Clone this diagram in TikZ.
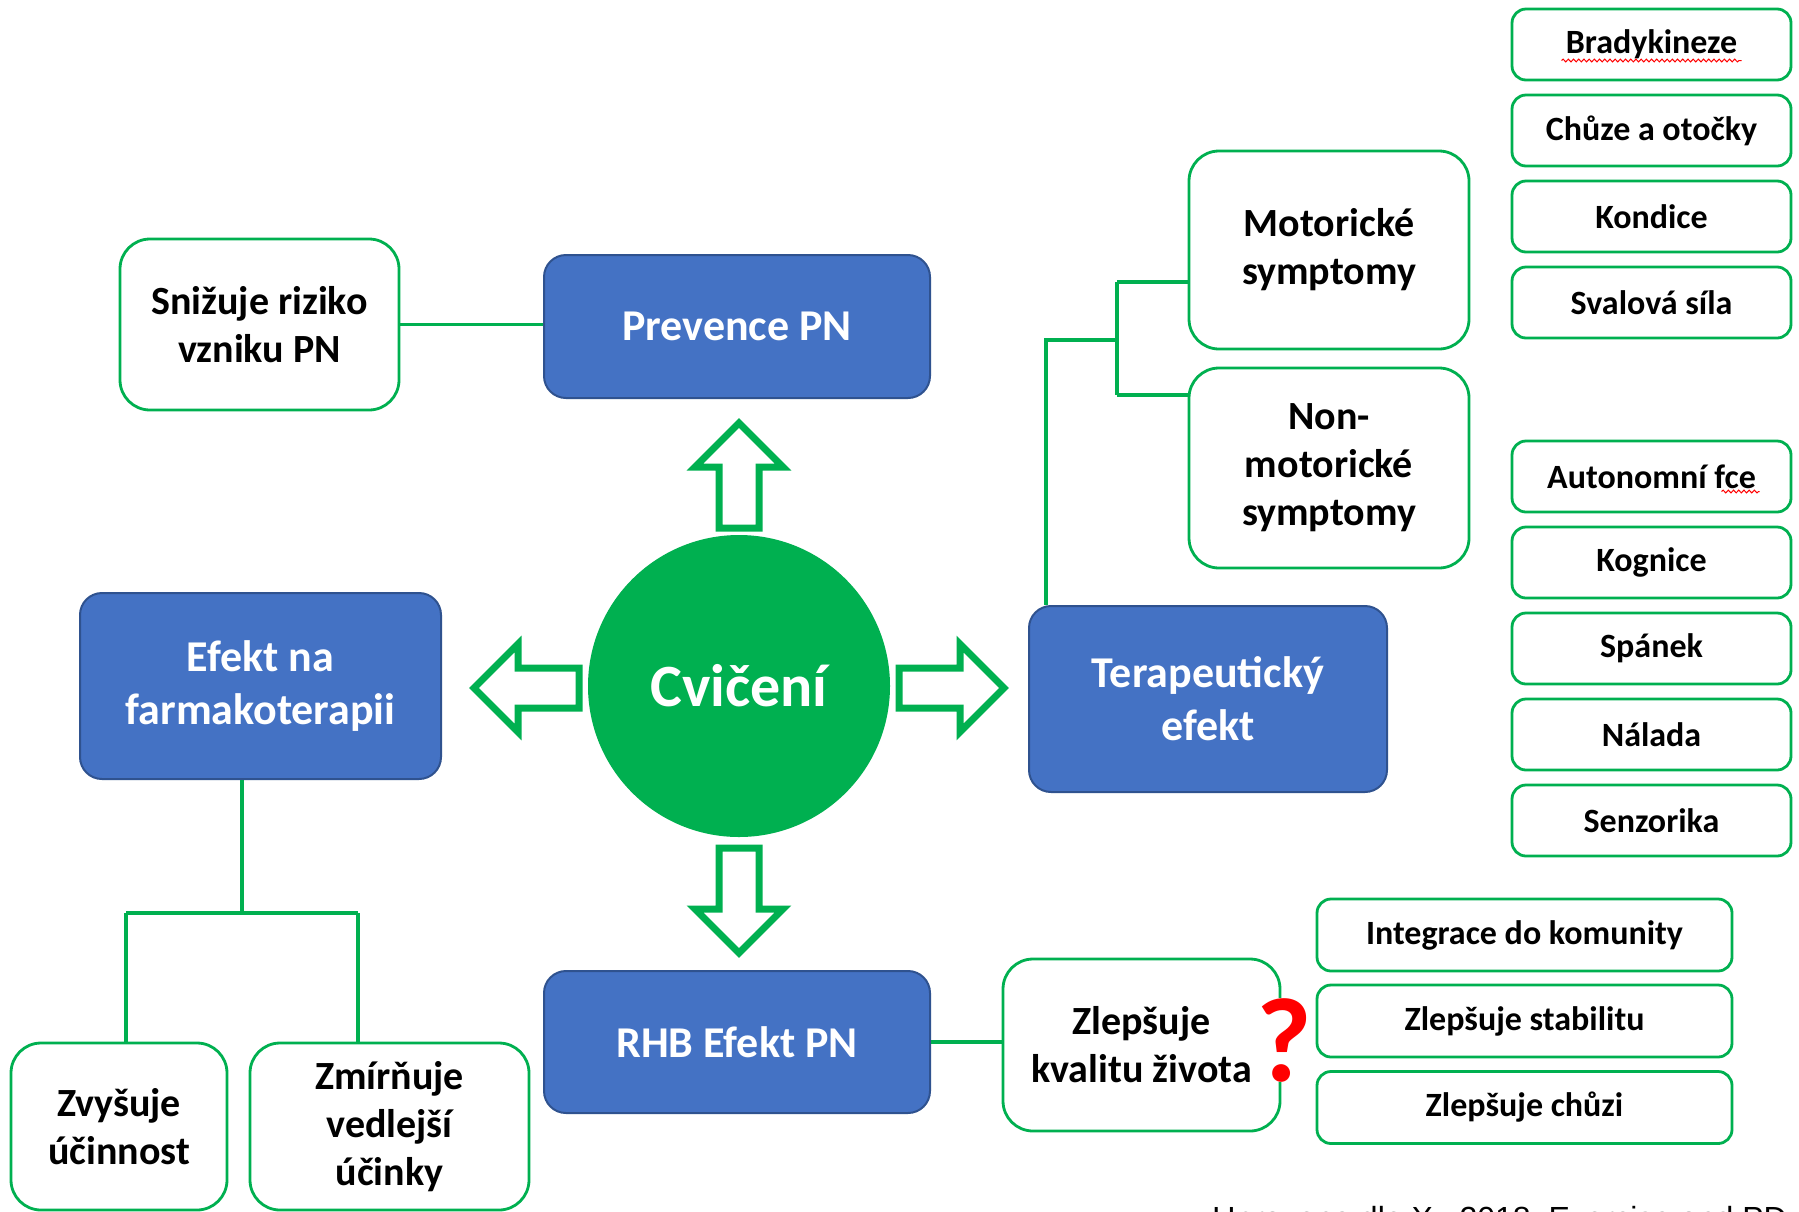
\documentclass[tikz,border=0pt]{standalone}
\usepackage{fontspec}
\setmainfont{Carlito}
\newfontfamily\citefont{Liberation Sans}
\usetikzlibrary{decorations.pathmorphing}
\definecolor{grn}{HTML}{00B050}
\definecolor{blu}{HTML}{4472C4}
\definecolor{blued}{HTML}{2F528F}
\begin{document}
\begin{tikzpicture}[x=0.5pt,y=-0.5pt,
  gbox/.style={draw=grn, line width=1.4pt, rounded corners=15pt, fill=white, align=center, inner sep=0pt,
    font=\bfseries\fontsize{20}{24}\selectfont},
  sbox/.style={draw=grn, line width=1.4pt, rounded corners=7pt, fill=white, align=center, inner sep=0pt,
    minimum height=35.5pt, font=\bfseries\fontsize{17}{20}\selectfont},
  bbox/.style={draw=blued, fill=blu, line width=1pt, rounded corners=11pt, align=center, inner sep=0pt,
    text=white, font=\bfseries\fontsize{22}{26.5}\selectfont},
  conn/.style={draw=grn, line width=1.7pt},
  barrow/.style={draw=grn, fill=white, line width=3.5pt, line join=miter},
  squig/.style={red, line width=0.5pt, decorate, decoration={snake, amplitude=0.7pt, segment length=2.6pt}}
]
\useasboundingbox (0,0) rectangle (1799,1211);
\fill[white] (0,0) rectangle (1799,1211);

% central circle
\node[circle, fill=grn, minimum size=151pt, inner sep=0pt, text=white,
  font=\bfseries\fontsize{30}{36}\selectfont] (cv) at (739,686) {Cvičení};

% block arrows
\foreach \a in {0,90,180,270}{
  \begin{scope}[shift={(739,688)}, rotate=\a]
    \draw[barrow] (160,-20) -- (221,-20) -- (221,-44) -- (265,0) -- (221,44) -- (221,20) -- (160,20) -- cycle;
  \end{scope}
}

% blue boxes
\node[bbox, minimum width=193pt, minimum height=71.5pt] (prev) at (737,326.5) {Prevence PN};
\node[bbox, minimum width=180.5pt, minimum height=93pt] (farm) at (260.5,686) {Efekt na\\farmakoterapii};
\node[bbox, minimum width=179pt, minimum height=93pt] (ter) at (1208,699) {Terapeutický\\efekt};
\node[bbox, minimum width=193pt, minimum height=71pt] (rhb) at (737,1042) {RHB Efekt PN};

% green big boxes
\node[gbox, minimum width=139.5pt, minimum height=85.5pt] (sniz) at (259.5,324.5) {Snižuje riziko\\vzniku PN};
\node[gbox, minimum width=140pt, minimum height=99pt] (mot) at (1329,250) {Motorické\\symptomy};
\node[gbox, minimum width=140pt, minimum height=100pt] (non) at (1329,468) {Non-\\motorické\\symptomy};
\node[gbox, minimum width=108pt, minimum height=83.5pt] (zvy) at (119,1126.5) {Zvyšuje\\účinnost};
\node[gbox, minimum width=139.5pt, minimum height=83.5pt] (zmi) at (389.5,1126.5) {Zmírňuje\\vedlejší\\účinky};
\node[gbox, minimum width=138.5pt, minimum height=86pt] (kval) at (1141.5,1045) {Zlepšuje\\kvalitu života};

% right column small boxes
\node[sbox, minimum width=139.5pt] (brad) at (1651.5,44.5) {Bradykineze};
\node[sbox, minimum width=139.5pt] (chuze) at (1651.5,130.5) {Chůze a otočky};
\node[sbox, minimum width=139.5pt] (kond) at (1651.5,216.5) {Kondice};
\node[sbox, minimum width=139.5pt] (sval) at (1651.5,302.5) {Svalová síla};
\node[sbox, minimum width=139.5pt] (auto) at (1651.5,476.5) {Autonomní fce};
\node[sbox, minimum width=139.5pt] (kogn) at (1651.5,562.5) {Kognice};
\node[sbox, minimum width=139.5pt] (span) at (1651.5,648.5) {Spánek};
\node[sbox, minimum width=139.5pt] (nal) at (1651.5,734.5) {Nálada};
\node[sbox, minimum width=139.5pt] (senz) at (1651.5,820.5) {Senzorika};

% bottom right small boxes
\node[sbox, minimum width=207.5pt, minimum height=36pt] (integ) at (1524.5,935) {Integrace do komunity};
\node[sbox, minimum width=207.5pt, minimum height=36pt] (stab) at (1524.5,1021) {Zlepšuje stabilitu};
\node[sbox, minimum width=207.5pt, minimum height=36pt] (chuzi) at (1524.5,1107.5) {Zlepšuje chůzi};

% spell-check squiggles
\draw[squig] ([xshift=-45pt,yshift=-8pt]brad.center) -- ([xshift=45pt,yshift=-8pt]brad.center);
\draw[squig] ([xshift=35pt,yshift=-7.5pt]auto.center) -- ([xshift=54pt,yshift=-7.5pt]auto.center);

% connectors
\draw[conn] (sniz.east) -- (sniz.east -| prev.west);
\coordinate (tj) at (1046,340);
\coordinate (tb) at (1117,340);
\coordinate (mj) at (1117,282);
\coordinate (nj) at (1117,395);
\draw[conn] (ter.north -| tj) -- (tj) -- (tb);
\draw[conn] (mj) -- (nj);
\draw[conn] (mj) -- (mj -| mot.west);
\draw[conn] (nj) -- (nj -| non.west);
\coordinate (fj) at (242,913);
\coordinate (fl) at (126,913);
\coordinate (fr) at (358,913);
\draw[conn] (farm.south -| fj) -- (fj);
\draw[conn] (fl) -- (fr);
\draw[conn] (fl) -- (fl |- zvy.north);
\draw[conn] (fr) -- (fr |- zmi.north);
\draw[conn] (rhb.east) -- (rhb.east -| kval.west);

% question mark
\node[text=red, fill=white, inner sep=0pt, font=\bfseries\fontsize{60}{60}\selectfont] (q) at (1284,1040) {?};

% citation (cut off at bottom, as in the reference)
\node[anchor=base west, inner sep=0pt, font=\citefont\fontsize{16}{19}\selectfont] (cite) at (1212,1229) {Upraveno dle X., 2018, Exercise and PD};
\end{tikzpicture}
\end{document}
